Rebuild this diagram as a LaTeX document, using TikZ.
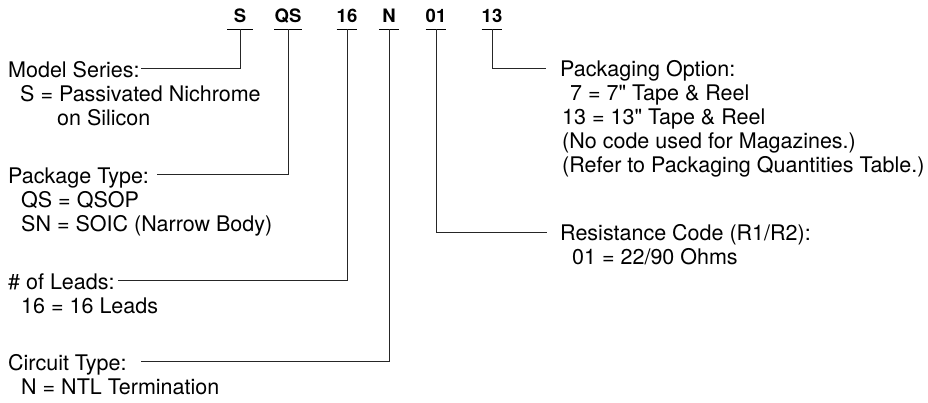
\documentclass[tikz,border=0pt]{standalone}
\usepackage{fontspec}
\setmainfont{TeX Gyre Heros}[Ligatures=TeXOff]
\begin{document}
\begin{tikzpicture}[x=1pt,y=-1pt,
  lbl/.style={anchor=base west, inner sep=0pt, text height=17pt, text depth=0pt,
    font=\fontsize{21.5}{24}\selectfont},
  code/.style={anchor=base, inner xsep=0pt, inner ysep=0pt, text height=13pt, text depth=7pt,
    minimum width=20pt, font=\fontsize{18.5}{20}\selectfont\bfseries},
  conn/.style={line width=0.8pt, black!85},
  uline/.style={line width=1pt}]
\useasboundingbox (0,0) rectangle (928,402);
% code letters
\node[code, minimum width=25pt] (cS) at (240,22) {S};
\node[code] (cQS) at (288,22) {QS};
\node[code] (c16) at (347,22) {16};
\node[code] (cN) at (389,22) {N};
\node[code] (c01) at (436,22) {01};
\node[code] (c13) at (492,22) {13};
\foreach \n in {cS,cQS,c16,cN,c01,c13}
  \draw[uline] (\n.south west) -- (\n.south east);
% left labels
\node[lbl] (lMS) at (8,77) {Model Series:};
\node[lbl] (lMS1) at (20,101) {S = Passivated Nichrome};
\node[lbl] (lMS2) at (57,125) {on Silicon};
\node[lbl] (lPT) at (8,183) {Package Type:};
\node[lbl] (lPT1) at (21,207) {QS = QSOP};
\node[lbl] (lPT2) at (21,231) {SN = SOIC (Narrow Body)};
\node[lbl] (lNL) at (8,289) {\# of Leads:};
\node[lbl] (lNL1) at (21,313) {16 = 16 Leads};
\node[lbl] (lCT) at (8,370) {Circuit Type:};
\node[lbl] (lCT1) at (21,394) {N = NTL Termination};
% right labels
\node[lbl] (lPO) at (560,76.5) {Packaging Option:};
\node[lbl] (lPO1) at (570,100.5) {7 = 7" Tape \& Reel};
\node[lbl] (lPO2) at (562,124.5) {13 = 13" Tape \& Reel};
\node[lbl] (lPO3) at (562,148.5) {(No code used for Magazines.)};
\node[lbl] (lPO4) at (562,172.5) {(Refer to Packaging Quantities Table.)};
\node[lbl] (lRC) at (560,240.5) {Resistance Code (R1/R2):};
\node[lbl] (lRC1) at (572,264.5) {01 = 22/90 Ohms};
% connectors
\draw[conn] (cS.south) |- ([xshift=1pt]lMS.east);
\draw[conn] (cQS.south) |- ([xshift=8pt]lPT.east);
\draw[conn] (c16.south) |- ([xshift=3pt]lNL.east);
\draw[conn] (cN.south) |- ([xshift=14pt]lCT.east);
\draw[conn] (c01.south) |- ([xshift=-13pt]lRC.west);
\draw[conn] (c13.south) |- ([xshift=-14pt]lPO.west);
\end{tikzpicture}
\end{document}
